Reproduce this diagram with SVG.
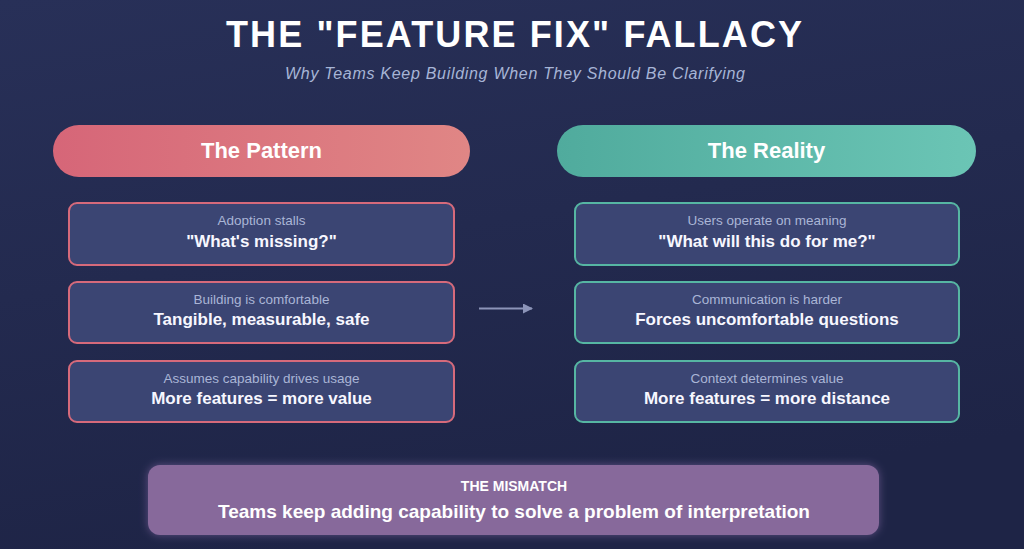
<svg xmlns="http://www.w3.org/2000/svg" width="1024" height="549" viewBox="0 0 1024 549">
<defs>
<linearGradient id="bg" x1="0" y1="0" x2="0.3" y2="1">
<stop offset="0" stop-color="#283058"/>
<stop offset="1" stop-color="#1e2446"/>
</linearGradient>
<linearGradient id="pink" x1="0" y1="0" x2="1" y2="0">
<stop offset="0" stop-color="#d66678"/>
<stop offset="1" stop-color="#e08685"/>
</linearGradient>
<linearGradient id="teal" x1="0" y1="0" x2="1" y2="0">
<stop offset="0" stop-color="#50ab9d"/>
<stop offset="1" stop-color="#6bc5b5"/>
</linearGradient>
<filter id="glow" x="-5%" y="-30%" width="110%" height="160%">
<feGaussianBlur in="SourceAlpha" stdDeviation="4" result="blur"/>
<feFlood flood-color="#a07cc0" flood-opacity="0.5" result="col"/>
<feComposite operator="in" in="col" in2="blur" result="g"/>
<feMerge><feMergeNode in="g"/><feMergeNode in="SourceGraphic"/></feMerge>
</filter>
<marker id="ah" viewBox="0 0 10 10" refX="9" refY="5" markerWidth="10" markerHeight="10" markerUnits="userSpaceOnUse" orient="auto">
<path d="M0,0 L10,5 L0,10 Z" fill="#8c94b8"/>
</marker>
<style>
.t{font-family:"Liberation Sans",Arial,sans-serif;text-anchor:middle}
.title{font-size:36px;font-weight:bold;fill:#ffffff}
.sub{font-size:16px;font-style:italic;fill:#a7b5d6}
.pill{font-size:22px;font-weight:bold;fill:#ffffff}
.lab{font-size:13.5px;fill:#aab5d6}
.big{font-size:17px;font-weight:bold;fill:#f7f7ff}
.cardP{fill:#3b4573;stroke:#d66a7b;stroke-width:2}
.cardT{fill:#3b4573;stroke:#56b6a3;stroke-width:2}
.mtitle{font-size:14px;font-weight:bold;fill:#ffffff}
.mtext{font-size:19px;font-weight:bold;fill:#ffffff}
</style>
</defs>
<rect x="0" y="0" width="1024" height="549" fill="url(#bg)"/>

<g id="header">
<text class="t title" x="514" y="47" textLength="576">THE "FEATURE FIX" FALLACY</text>
<text class="t sub" x="515" y="79" textLength="460">Why Teams Keep Building When They Should Be Clarifying</text>
</g>

<g id="pattern-header">
<rect x="53" y="125" width="417" height="52" rx="26" fill="url(#pink)"/>
<text class="t pill" x="261.5" y="158">The Pattern</text>
</g>
<g id="reality-header">
<rect x="557" y="125" width="419" height="52" rx="26" fill="url(#teal)"/>
<text class="t pill" x="766.5" y="158">The Reality</text>
</g>

<g id="p1">
<rect class="cardP" x="69" y="203" width="385" height="62" rx="8"/>
<text class="t lab" x="261.5" y="225">Adoption stalls</text>
<text class="t big" x="261.5" y="247">"What's missing?"</text>
</g>
<g id="p2">
<rect class="cardP" x="69" y="282" width="385" height="61" rx="8"/>
<text class="t lab" x="261.5" y="304">Building is comfortable</text>
<text class="t big" x="261.5" y="325">Tangible, measurable, safe</text>
</g>
<g id="p3">
<rect class="cardP" x="69" y="361" width="385" height="61" rx="8"/>
<text class="t lab" x="261.5" y="383">Assumes capability drives usage</text>
<text class="t big" x="261.5" y="404">More features = more value</text>
</g>

<g id="r1">
<rect class="cardT" x="575" y="203" width="384" height="62" rx="8"/>
<text class="t lab" x="767" y="225">Users operate on meaning</text>
<text class="t big" x="767" y="247">"What will this do for me?"</text>
</g>
<g id="r2">
<rect class="cardT" x="575" y="282" width="384" height="61" rx="8"/>
<text class="t lab" x="767" y="304">Communication is harder</text>
<text class="t big" x="767" y="325">Forces uncomfortable questions</text>
</g>
<g id="r3">
<rect class="cardT" x="575" y="361" width="384" height="61" rx="8"/>
<text class="t lab" x="767" y="383">Context determines value</text>
<text class="t big" x="767" y="404">More features = more distance</text>
</g>

<g id="connectors">
<line x1="479" y1="308.5" x2="532" y2="308.5" stroke="#8c94b8" stroke-width="2" marker-end="url(#ah)"/>
</g>

<g id="mismatch">
<rect x="148" y="465" width="731" height="70" rx="12" fill="#87699b" filter="url(#glow)"/>
<text class="t mtitle" x="514" y="491">THE MISMATCH</text>
<text class="t mtext" x="514" y="518">Teams keep adding capability to solve a problem of interpretation</text>
</g>
</svg>
